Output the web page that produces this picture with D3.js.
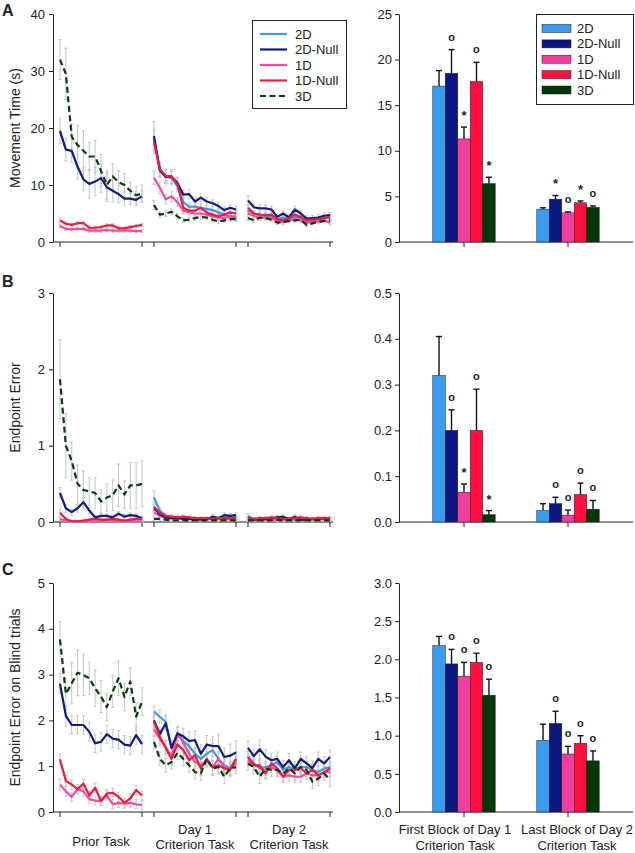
<!DOCTYPE html>
<html><head><meta charset="utf-8">
<script src="https://cdn.jsdelivr.net/npm/d3@7"></script>
<style>
body{margin:0;background:#fff;}
text{font-family:"Liberation Sans",Arial,sans-serif;fill:#222;}
</style>
</head><body>
<svg id="c" width="635" height="853"></svg>
<script>
// ---------- categories ----------
const series = ["2D","2D-Null","1D","1D-Null","3D"];
const segments = ["Prior Task","Day 1 Criterion Task","Day 2 Criterion Task"];
const trials = [1,2,3,4,5,6,7,8,9,10,11,12,13,14,15];
const barGroups = ["First Block of Day 1 Criterion Task","Last Block of Day 2 Criterion Task"];

// ---------- A: Movement Time (s) ----------
const mt2D      = [[], [18.0,12.5,11.5,11.2,9.8,7.0,6.2,6.2,6.0,5.8,5.6,5.2,4.8,4.5,4.2], [5.5,5.0,4.8,4.5,4.5,4.0,4.3,4.0,4.5,4.2,3.6,3.8,4.0,4.2,4.3]];
const mt2DNull  = [[19.5,16.2,16.0,13.2,11.0,10.2,10.6,11.2,9.6,9.0,8.4,7.6,7.6,7.4,8.0], [18.6,12.6,11.4,11.5,10.4,8.3,8.4,7.1,7.8,7.1,6.8,6.3,5.6,6.0,5.7], [7.3,6.1,5.9,5.9,5.7,4.4,5.0,4.3,5.7,5.0,4.1,4.2,4.3,4.6,4.7]];
const mt1D      = [[2.8,2.3,2.2,2.3,2.3,2.0,2.0,2.0,2.1,2.0,2.0,2.0,2.0,1.9,1.9], [11.3,9.5,7.5,8.0,7.0,5.5,5.2,5.0,5.0,4.8,4.5,4.3,4.2,4.5,4.5], [5.0,4.6,4.2,4.3,4.2,3.7,3.5,3.8,4.0,3.8,3.4,3.5,3.6,3.8,3.4]];
const mt1DNull  = [[3.8,3.2,3.0,3.3,3.3,2.5,2.5,2.6,2.9,2.9,2.4,2.4,2.6,2.8,3.0], [17.5,12.8,11.6,11.5,10.2,6.0,5.5,5.5,6.0,5.2,4.8,4.5,4.8,5.2,5.0], [6.0,5.0,4.8,4.7,4.8,4.0,3.8,4.2,4.8,4.4,3.8,3.9,4.0,4.2,4.4]];
const mt3D      = [[32.0,29.5,18.5,17.0,16.0,15.0,15.0,12.5,10.0,11.5,10.5,10.0,9.0,8.2,8.5], [6.5,4.8,5.0,5.3,4.5,3.8,3.9,4.2,4.4,4.3,3.9,3.6,3.8,4.0,4.0], [4.2,3.8,4.3,4.2,3.9,3.4,3.5,3.7,3.8,3.9,3.0,3.3,3.5,3.7,3.8]];
const mt2DErr     = [[], [2.0,1.2,1.2,1.2,1.0,0.8,0.8,0.7,0.7,0.6,0.6,0.6,0.6,0.6,0.5], [0.6,0.5,0.5,0.5,0.5,0.4,0.4,0.4,0.5,0.4,0.4,0.4,0.4,0.4,0.4]];
const mt2DNullErr = [[2.2,2.0,2.0,2.2,2.0,2.5,2.5,2.5,2.5,2.0,1.5,1.2,1.0,1.0,1.0], [2.5,1.2,1.2,1.2,1.0,0.8,0.8,0.8,0.7,0.7,0.6,0.6,0.6,0.6,0.6], [0.8,0.6,0.6,0.6,0.6,0.5,0.5,0.5,0.6,0.5,0.5,0.5,0.5,0.5,0.5]];
const mt1DErr     = [[0.3,0.3,0.3,0.3,0.3,0.3,0.3,0.3,0.3,0.3,0.3,0.3,0.3,0.3,0.3], [1.2,1.0,0.8,0.9,0.8,0.6,0.6,0.5,0.5,0.5,0.5,0.5,0.5,0.5,0.5], [0.5,0.4,0.4,0.4,0.4,0.4,0.4,0.4,0.4,0.4,0.4,0.4,0.4,0.4,0.4]];
const mt1DNullErr = [[0.4,0.3,0.3,0.3,0.3,0.3,0.3,0.3,0.3,0.3,0.3,0.3,0.3,0.3,0.3], [2.0,1.3,1.2,1.2,1.0,0.7,0.6,0.6,0.6,0.6,0.5,0.5,0.5,0.5,0.5], [0.6,0.5,0.5,0.5,0.5,0.4,0.4,0.4,0.5,0.4,0.4,0.4,0.4,0.4,0.4]];
const mt3DErr     = [[3.5,4.5,2.2,3.5,3.5,2.5,2.8,2.8,2.5,2.2,2.0,2.0,1.5,1.5,1.5], [0.8,0.5,0.5,0.5,0.5,0.4,0.4,0.4,0.4,0.4,0.4,0.4,0.4,0.4,0.4], [0.4,0.4,0.4,0.4,0.4,0.3,0.3,0.3,0.3,0.3,0.3,0.3,0.3,0.3,0.3]];
const mtBar     = [[17.1,18.5,11.3,17.6,6.4],[3.6,4.7,3.2,4.3,3.8]];
const mtBarErr  = [[1.7,2.6,1.3,2.1,0.7],[0.15,0.4,0.1,0.2,0.15]];
const mtMarks   = [["","o","*","o","*"],["","*","o","*","o"]];

// ---------- B: Endpoint Error ----------
const ee2D      = [[], [0.32,0.15,0.08,0.06,0.06,0.06,0.05,0.05,0.04,0.03,0.05,0.05,0.06,0.05,0.06], [0.08,0.04,0.03,0.03,0.04,0.06,0.04,0.04,0.03,0.03,0.04,0.03,0.04,0.04,0.04]];
const ee2DNull  = [[0.38,0.18,0.13,0.18,0.26,0.15,0.06,0.08,0.08,0.06,0.11,0.07,0.09,0.08,0.05], [0.18,0.10,0.06,0.05,0.05,0.04,0.04,0.03,0.03,0.04,0.07,0.05,0.09,0.08,0.09], [0.05,0.03,0.03,0.04,0.05,0.06,0.07,0.04,0.07,0.03,0.03,0.04,0.04,0.05,0.05]];
const ee1D      = [[0.04,0.02,0.01,0.01,0.01,0.01,0.01,0.01,0.02,0.02,0.01,0.01,0.01,0.01,0.01], [0.12,0.08,0.06,0.05,0.06,0.05,0.05,0.04,0.04,0.04,0.04,0.04,0.03,0.04,0.04], [0.03,0.03,0.03,0.03,0.03,0.03,0.03,0.03,0.03,0.03,0.03,0.03,0.03,0.04,0.04]];
const ee1DNull  = [[0.12,0.04,0.01,0.01,0.02,0.03,0.04,0.03,0.03,0.04,0.03,0.02,0.03,0.04,0.04], [0.20,0.12,0.08,0.07,0.06,0.07,0.06,0.05,0.05,0.05,0.04,0.05,0.05,0.05,0.05], [0.04,0.04,0.05,0.05,0.06,0.05,0.04,0.04,0.05,0.06,0.05,0.04,0.05,0.05,0.05]];
const ee3D      = [[1.87,1.00,0.80,0.50,0.42,0.40,0.38,0.27,0.32,0.35,0.48,0.36,0.48,0.48,0.50], [0.04,0.04,0.03,0.02,0.02,0.02,0.02,0.02,0.02,0.02,0.02,0.02,0.02,0.02,0.02], [0.02,0.02,0.02,0.02,0.02,0.03,0.02,0.02,0.02,0.02,0.02,0.02,0.02,0.02,0.02]];
const ee2DErr     = [[], [0.09,0.04,0.03,0.03,0.03,0.02,0.02,0.02,0.02,0.02,0.02,0.02,0.03,0.02,0.02], [0.03,0.02,0.02,0.02,0.02,0.02,0.02,0.02,0.02,0.02,0.02,0.02,0.02,0.02,0.02]];
const ee2DNullErr = [[0.07,0.05,0.04,0.05,0.06,0.04,0.03,0.03,0.03,0.03,0.03,0.03,0.03,0.03,0.03], [0.05,0.03,0.02,0.02,0.02,0.02,0.02,0.02,0.02,0.02,0.03,0.02,0.03,0.03,0.03], [0.02,0.02,0.02,0.02,0.02,0.02,0.02,0.02,0.02,0.02,0.02,0.02,0.02,0.02,0.02]];
const ee1DErr     = [[0.02,0.01,0.01,0.01,0.01,0.01,0.01,0.01,0.01,0.01,0.01,0.01,0.01,0.01,0.01], [0.04,0.03,0.02,0.02,0.02,0.02,0.02,0.02,0.02,0.02,0.02,0.02,0.02,0.02,0.02], [0.02,0.02,0.02,0.02,0.02,0.02,0.02,0.02,0.02,0.02,0.02,0.02,0.02,0.02,0.02]];
const ee1DNullErr = [[0.05,0.02,0.01,0.01,0.01,0.01,0.02,0.01,0.01,0.02,0.01,0.01,0.01,0.02,0.02], [0.06,0.04,0.03,0.03,0.02,0.02,0.02,0.02,0.02,0.02,0.02,0.02,0.02,0.02,0.02], [0.02,0.02,0.02,0.02,0.02,0.02,0.02,0.02,0.02,0.02,0.02,0.02,0.02,0.02,0.02]];
const ee3DErr     = [[0.52,0.42,0.25,0.25,0.25,0.18,0.20,0.15,0.18,0.20,0.28,0.18,0.30,0.30,0.30], [0.02,0.02,0.01,0.01,0.01,0.01,0.01,0.01,0.01,0.01,0.01,0.01,0.01,0.01,0.01], [0.01,0.01,0.01,0.01,0.01,0.01,0.01,0.01,0.01,0.01,0.01,0.01,0.01,0.01,0.01]];
const eeBar     = [[0.32,0.20,0.065,0.20,0.016],[0.025,0.04,0.015,0.06,0.028]];
const eeBarErr  = [[0.085,0.045,0.018,0.09,0.009],[0.015,0.014,0.011,0.025,0.019]];
const eeMarks   = [["","o","*","o","*"],["","o","o","o","o"]];

// ---------- C: Endpoint Error on Blind trials ----------
const bl2D      = [[], [2.19,2.08,1.97,1.40,1.70,1.55,1.44,1.27,1.16,1.27,1.35,1.16,1.02,0.95,1.16], [1.20,1.06,0.95,0.98,1.02,1.09,0.92,0.98,0.92,0.98,0.98,0.92,0.87,0.95,0.98]];
const bl2DNull  = [[2.80,2.10,1.90,1.90,1.90,1.75,1.50,1.53,1.70,1.60,1.58,1.47,1.45,1.68,1.48], [2.00,1.70,1.94,1.40,1.72,1.65,1.55,1.57,1.27,1.47,1.44,1.44,1.20,1.23,1.30], [1.40,1.22,1.37,1.21,1.13,1.16,0.98,1.13,0.95,1.16,1.06,0.96,1.16,1.06,1.20]];
const bl1D      = [[0.60,0.45,0.33,0.50,0.45,0.28,0.25,0.24,0.36,0.17,0.20,0.18,0.20,0.17,0.15], [1.80,1.60,1.42,1.20,1.70,1.52,1.27,1.09,1.02,1.13,0.98,1.16,0.98,0.95,1.06], [1.13,1.02,1.03,0.87,0.98,0.90,0.77,0.80,0.77,0.77,0.84,0.80,0.80,0.87,0.88]];
const bl1DNull  = [[1.15,0.68,0.60,0.50,0.62,0.36,0.53,0.24,0.40,0.42,0.33,0.20,0.30,0.48,0.36], [1.97,1.64,1.40,1.16,1.48,1.35,1.13,1.24,0.95,1.16,0.98,1.02,0.95,0.92,1.16], [1.20,1.03,1.00,0.84,1.06,0.95,0.77,0.92,0.92,0.96,0.84,0.92,0.80,0.87,0.95]];
const bl3D      = [[3.77,2.58,2.81,3.04,2.99,2.92,2.70,2.52,2.29,2.63,2.92,2.51,2.85,2.08,2.41], [1.53,1.16,1.02,1.09,1.29,1.16,1.02,0.87,0.84,1.16,0.95,0.98,0.77,0.95,0.98], [1.06,0.98,0.77,0.95,0.92,0.92,0.84,0.95,0.84,0.98,0.92,0.66,0.73,0.84,0.70]];
const bl2DErr     = [[], [0.12,0.15,0.15,0.15,0.15,0.15,0.15,0.15,0.15,0.15,0.15,0.15,0.15,0.15,0.15], [0.12,0.12,0.12,0.12,0.12,0.12,0.12,0.12,0.12,0.12,0.12,0.12,0.12,0.12,0.12]];
const bl2DNullErr = [[0.22,0.22,0.2,0.2,0.2,0.2,0.2,0.2,0.2,0.2,0.2,0.2,0.2,0.2,0.2], [0.2,0.15,0.15,0.15,0.15,0.18,0.2,0.2,0.2,0.2,0.2,0.25,0.2,0.25,0.25], [0.15,0.15,0.2,0.15,0.15,0.15,0.15,0.15,0.15,0.15,0.15,0.15,0.15,0.15,0.15]];
const bl1DErr     = [[0.12,0.1,0.1,0.1,0.1,0.1,0.1,0.1,0.1,0.1,0.1,0.1,0.1,0.1,0.1], [0.15,0.15,0.15,0.15,0.15,0.15,0.15,0.15,0.15,0.15,0.15,0.15,0.15,0.15,0.15], [0.12,0.12,0.12,0.12,0.12,0.12,0.12,0.12,0.12,0.12,0.12,0.12,0.12,0.12,0.12]];
const bl1DNullErr = [[0.12,0.12,0.1,0.1,0.1,0.1,0.1,0.1,0.1,0.1,0.1,0.1,0.1,0.1,0.1], [0.15,0.15,0.15,0.15,0.15,0.15,0.15,0.15,0.15,0.15,0.15,0.15,0.15,0.15,0.15], [0.12,0.12,0.12,0.12,0.12,0.12,0.12,0.12,0.12,0.12,0.12,0.12,0.12,0.12,0.12]];
const bl3DErr     = [[0.38,0.35,0.45,0.5,0.45,0.35,0.4,0.35,0.3,0.35,0.38,0.3,0.3,0.3,0.3], [0.15,0.15,0.15,0.15,0.15,0.15,0.15,0.15,0.15,0.15,0.15,0.15,0.15,0.15,0.15], [0.15,0.15,0.15,0.15,0.15,0.15,0.15,0.15,0.15,0.15,0.15,0.15,0.15,0.15,0.15]];
const blBar     = [[2.18,1.94,1.78,1.96,1.53],[0.94,1.16,0.76,0.90,0.67]];
const blBarErr  = [[0.12,0.19,0.18,0.12,0.21],[0.21,0.16,0.10,0.10,0.13]];
const blMarks   = [["","o","o","o","o"],["","o","o","o","o"]];

// ---------- tick labels ----------
const mtLineTicks = [0,10,20,30,40];
const mtBarTicks  = [0,5,10,15,20,25];
const eeLineTicks = [0,1,2,3];
const eeBarTicks  = [0,0.1,0.2,0.3,0.4,0.5];
const blLineTicks = [0,1,2,3,4,5];
const blBarTicks  = [0,0.5,1.0,1.5,2.0,2.5,3.0];

// ---------- styles ----------
const lineColor = {"2D":"#3a9ae6","2D-Null":"#141c7e","1D":"#ee4da3","1D-Null":"#ee1c3e","3D":"#0e3a12"};
const barColor  = {"2D":"#3a9cf0","2D-Null":"#0c1683","1D":"#f23f9f","1D-Null":"#ff1040","3D":"#053808"};
const drawOrder = ["2D","1D","2D-Null","1D-Null","3D"];

const svg = d3.select("#c");

const panels = [
  {letter:"A", letterY:16, yLabel:"Movement Time (s)", top:14, bottom:242,
   lineMax:40, lineTicks:mtLineTicks, lineFmt:d3.format("d"),
   barMax:25, barTicks:mtBarTicks, barFmt:d3.format("d"),
   lines:{"2D":mt2D,"2D-Null":mt2DNull,"1D":mt1D,"1D-Null":mt1DNull,"3D":mt3D},
   errs:{"2D":mt2DErr,"2D-Null":mt2DNullErr,"1D":mt1DErr,"1D-Null":mt1DNullErr,"3D":mt3DErr},
   bars:mtBar, barErr:mtBarErr, marks:mtMarks},
  {letter:"B", letterY:287, yLabel:"Endpoint Error", top:293, bottom:522,
   lineMax:3, lineTicks:eeLineTicks, lineFmt:d3.format("d"),
   barMax:0.5, barTicks:eeBarTicks, barFmt:d3.format(".1f"),
   lines:{"2D":ee2D,"2D-Null":ee2DNull,"1D":ee1D,"1D-Null":ee1DNull,"3D":ee3D},
   errs:{"2D":ee2DErr,"2D-Null":ee2DNullErr,"1D":ee1DErr,"1D-Null":ee1DNullErr,"3D":ee3DErr},
   bars:eeBar, barErr:eeBarErr, marks:eeMarks},
  {letter:"C", letterY:575, yLabel:"Endpoint Error on Blind trials", top:583, bottom:812,
   lineMax:5, lineTicks:blLineTicks, lineFmt:d3.format("d"),
   barMax:3, barTicks:blBarTicks, barFmt:d3.format(".1f"),
   lines:{"2D":bl2D,"2D-Null":bl2DNull,"1D":bl1D,"1D-Null":bl1DNull,"3D":bl3D},
   errs:{"2D":bl2DErr,"2D-Null":bl2DNullErr,"1D":bl1DErr,"1D-Null":bl1DNullErr,"3D":bl3DErr},
   bars:blBar, barErr:blBarErr, marks:blMarks}
];

// shared x scales
const leftAxisX = 53, leftEnd = 333;
const rightAxisX = 399, rightEnd = 633;
const segScale = d3.scalePoint().domain(segments).range([60, 248]);
const trialScale = d3.scaleLinear().domain([1, 15]).range([0, 82]);
const groupScale = d3.scaleBand().domain(barGroups).range([412, 620]).paddingInner(0.4).paddingOuter(0.2);
const seriesScale = d3.scaleBand().domain(series).range([0, groupScale.bandwidth()]);

function styleAxis(g){
  g.selectAll("path.domain").attr("stroke","#222").attr("stroke-width",1);
  g.selectAll(".tick line").attr("stroke","#222");
  g.selectAll(".tick text").attr("font-size",13).attr("fill","#222")
    .attr("font-family",'"Liberation Sans",Arial,sans-serif');
}

panels.forEach(p => {
  svg.append("text").attr("x",2).attr("y",p.letterY).attr("font-size",16)
    .attr("font-weight","bold").text(p.letter);

  // ---------- line chart ----------
  const y = d3.scaleLinear().domain([0,p.lineMax]).range([p.bottom,p.top]);
  const ya = svg.append("g").attr("transform",`translate(${leftAxisX},0)`)
    .call(d3.axisLeft(y).tickValues(p.lineTicks).tickFormat(p.lineFmt).tickSize(4).tickSizeOuter(0).tickPadding(4));
  styleAxis(ya);
  svg.append("text").attr("transform",`translate(20,${(p.top+p.bottom)/2}) rotate(-90)`)
    .attr("text-anchor","middle").attr("font-size",14).text(p.yLabel);

  svg.append("line").attr("x1",leftAxisX).attr("x2",leftEnd).attr("y1",p.bottom).attr("y2",p.bottom)
    .attr("stroke","#222");
  segments.forEach(s => {
    [1,15].forEach(t => {
      const x = segScale(s) + trialScale(t);
      svg.append("line").attr("x1",x).attr("x2",x).attr("y1",p.bottom).attr("y2",p.bottom+5).attr("stroke","#222");
    });
  });

  // error bars
  const eg = svg.append("g").attr("stroke","#c6c6c6").attr("stroke-width",1);
  drawOrder.forEach(sr => {
    p.lines[sr].forEach((vals, si) => {
      const errs = p.errs[sr][si];
      vals.forEach((v, i) => {
        const x = segScale(segments[si]) + trialScale(trials[i]);
        const e = errs[i];
        const y1 = y(Math.max(0, v - e)), y2 = y(v + e);
        eg.append("line").attr("x1",x).attr("x2",x).attr("y1",y1).attr("y2",y2);
        eg.append("line").attr("x1",x-1.5).attr("x2",x+1.5).attr("y1",y1).attr("y2",y1);
        eg.append("line").attr("x1",x-1.5).attr("x2",x+1.5).attr("y1",y2).attr("y2",y2);
      });
    });
  });

  // lines
  drawOrder.forEach(sr => {
    p.lines[sr].forEach((vals, si) => {
      if (!vals.length) return;
      const line = d3.line()
        .x((d,i) => segScale(segments[si]) + trialScale(trials[i]))
        .y(d => y(d));
      svg.append("path").datum(vals).attr("d",line).attr("fill","none")
        .attr("stroke",lineColor[sr]).attr("stroke-width",2.2)
        .attr("stroke-linejoin","round")
        .attr("stroke-dasharray", sr==="3D" ? "6,3.5" : null);
    });
  });

  // ---------- bar chart ----------
  const yb = d3.scaleLinear().domain([0,p.barMax]).range([p.bottom,p.top]);
  const yba = svg.append("g").attr("transform",`translate(${rightAxisX},0)`)
    .call(d3.axisLeft(yb).tickValues(p.barTicks).tickFormat(p.barFmt).tickSize(4).tickSizeOuter(0).tickPadding(3));
  styleAxis(yba);
  svg.append("line").attr("x1",rightAxisX).attr("x2",rightEnd).attr("y1",p.bottom).attr("y2",p.bottom).attr("stroke","#222");
  const xba = svg.append("g").attr("transform",`translate(0,${p.bottom})`)
    .call(d3.axisBottom(groupScale).tickSize(5).tickFormat(""));
  xba.select("path.domain").remove();
  styleAxis(xba);

  barGroups.forEach((g, gi) => {
    series.forEach((sr, k) => {
      const v = p.bars[gi][k], e = p.barErr[gi][k];
      const x0 = groupScale(g) + seriesScale(sr);
      const w = seriesScale.bandwidth();
      const cx = x0 + w/2;
      svg.append("line").attr("x1",cx).attr("x2",cx).attr("y1",yb(v)).attr("y2",yb(v+e))
        .attr("stroke","#111").attr("stroke-width",1.4);
      svg.append("line").attr("x1",cx-3).attr("x2",cx+3).attr("y1",yb(v+e)).attr("y2",yb(v+e))
        .attr("stroke","#111").attr("stroke-width",1.4);
      svg.append("rect").attr("x",x0).attr("y",yb(v)).attr("width",w).attr("height",yb(0)-yb(v))
        .attr("fill",barColor[sr]).attr("stroke","#1a1a1a").attr("stroke-width",0.5);
      const m = p.marks[gi][k];
      if (m) {
        svg.append("text").attr("x",cx).attr("y",yb(v+e) - (m==="*" ? 7 : 9))
          .attr("text-anchor","middle").attr("font-size", m==="*" ? 13 : 11)
          .attr("font-weight","bold").text(m);
      }
    });
  });
});

// ---------- legends ----------
const lg = svg.append("g");
lg.append("rect").attr("x",252.5).attr("y",20.5).attr("width",94).attr("height",88)
  .attr("fill","#fff").attr("stroke","#222").attr("stroke-width",1);
const legScale = d3.scalePoint().domain(series).range([34, 96]);
series.forEach(sr => {
  const yy = legScale(sr);
  lg.append("line").attr("x1",260).attr("x2",287).attr("y1",yy).attr("y2",yy)
    .attr("stroke",lineColor[sr]).attr("stroke-width",2.2)
    .attr("stroke-dasharray", sr==="3D" ? "6,3.5" : null);
  lg.append("text").attr("x",295).attr("y",yy+4.5).attr("font-size",13).text(sr);
});
const bg = svg.append("g");
bg.append("rect").attr("x",536.5).attr("y",14.5).attr("width",97).attr("height",90)
  .attr("fill","#fff").attr("stroke","#222").attr("stroke-width",1);
const barLegScale = d3.scalePoint().domain(series).range([28.5, 90]);
series.forEach(sr => {
  const yy = barLegScale(sr);
  bg.append("rect").attr("x",542).attr("y",yy-4).attr("width",29).attr("height",8)
    .attr("fill",barColor[sr]).attr("stroke","#1a1a1a").attr("stroke-width",0.5);
  bg.append("text").attr("x",577).attr("y",yy+4.5).attr("font-size",13).text(sr);
});

// ---------- x category labels ----------
const segLabelLines = [["Prior Task"],["Day 1","Criterion Task"],["Day 2","Criterion Task"]];
segments.forEach((s, i) => {
  const cx = segScale(s) + trialScale(8);
  const lines = segLabelLines[i];
  lines.forEach((t, j) => {
    const yy = lines.length === 1 ? 846 : 834 + j*15;
    svg.append("text").attr("x",cx).attr("y",yy).attr("text-anchor","middle").attr("font-size",13).text(t);
  });
});
const groupLabelLines = [["First Block of Day 1","Criterion Task"],["Last Block of Day 2","Criterion Task"]];
const groupLabelShift = [-9, 9];
barGroups.forEach((g, i) => {
  const cx = groupScale(g) + groupScale.bandwidth()/2 + groupLabelShift[i];
  groupLabelLines[i].forEach((t, j) => {
    svg.append("text").attr("x",cx).attr("y",834 + j*16).attr("text-anchor","middle").attr("font-size",13).text(t);
  });
});
</script>
</body></html>
